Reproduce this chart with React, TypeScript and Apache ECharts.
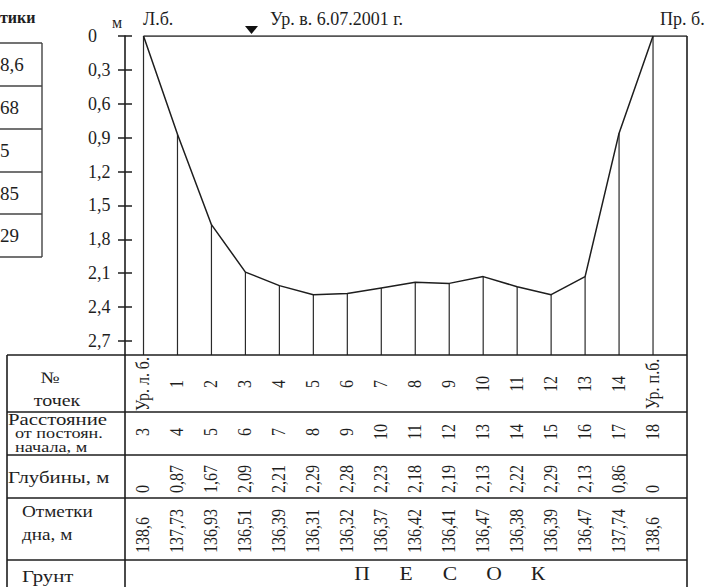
import React, { useEffect, useRef } from "react";
import * as echarts from "echarts";

// ---- data ----
const pointLabels = ["Ур. л. б.", "1", "2", "3", "4", "5", "6", "7", "8", "9", "10", "11", "12", "13", "14", "Ур. п.б."];
const distances = [3, 4, 5, 6, 7, 8, 9, 10, 11, 12, 13, 14, 15, 16, 17, 18];
const depths = [0, 0.87, 1.67, 2.09, 2.21, 2.29, 2.28, 2.23, 2.18, 2.19, 2.13, 2.22, 2.29, 2.13, 0.86, 0];
const bedElevations = [138.6, 137.73, 136.93, 136.51, 136.39, 136.31, 136.32, 136.37, 136.42, 136.41, 136.47, 136.38, 136.39, 136.47, 137.74, 138.6];
const depthTicks = [0, 0.3, 0.6, 0.9, 1.2, 1.5, 1.8, 2.1, 2.4, 2.7];
const soilLetters = ["П", "Е", "С", "О", "К"];
const sideTableFragments = ["8,6", "68", "5", "85", "29"];
const sideTableHeading = "тики";
const waterLevelText = "Ур. в. 6.07.2001 г.";
const leftBankText = "Л.б.";
const rightBankText = "Пр. б.";

// ---- layout ----
const FONT = '"Liberation Serif", "Times New Roman", serif';
const INK = "#1e1e1e";
const X_MIN = 2.455;
const X_MAX = 19;
const Y_MAX = 2.824;
const TABLE_LEFT = 7;
const COL_SEP = 125;
const RIGHT = 687;
const ROW_LINES = [355, 412, 455, 498, 560];

const fmtComma = (v: number) => String(v).replace(".", ",");

function tableRow(texts: string[], y: number, align: "left" | "center") {
  return {
    type: "custom",
    coordinateSystem: "cartesian2d",
    clip: false,
    silent: true,
    z: 5,
    data: distances.map((d) => [d, 0]),
    renderItem: (params: any, api: any) => {
      const x = api.coord([api.value(0), 0])[0];
      return {
        type: "text",
        x,
        y,
        rotation: Math.PI / 2,
        scaleY: 1.15,
        style: {
          text: texts[params.dataIndex],
          fontSize: 16,
          fontFamily: FONT,
          fill: INK,
          align,
          verticalAlign: "middle",
          textAlign: align,
          textVerticalAlign: "middle",
        },
      };
    },
  };
}

function txt(text: string, x: number, y: number, opts: any = {}) {
  const align = opts.align || "left";
  return {
    type: "text",
    x,
    y,
    scaleX: opts.scaleX || 1,
    silent: true,
    z: 10,
    style: {
      text,
      fontSize: opts.fontSize || 18,
      fontFamily: FONT,
      fontWeight: opts.bold ? "bold" : "normal",
      fill: INK,
      align,
      verticalAlign: "middle",
      textAlign: align,
      textVerticalAlign: "middle",
    },
  };
}

function hline(x1: number, x2: number, y: number, w = 1.5, color = INK) {
  return { type: "line", silent: true, z: 10, shape: { x1, y1: y, x2, y2: y }, style: { stroke: color, lineWidth: w } };
}
function vline(x: number, y1: number, y2: number, w = 1.5, color = INK) {
  return { type: "line", silent: true, z: 10, shape: { x1: x, y1, x2: x, y2 }, style: { stroke: color, lineWidth: w } };
}

export default function App() {
  const ref = useRef<HTMLDivElement>(null);
  useEffect(() => {
    if (!ref.current) return;
    const chart = echarts.init(ref.current, null, { renderer: "svg" });

    const graphic: any[] = [];
    // header texts
    graphic.push(txt(leftBankText, 143, 19, { fontSize: 18 }));
    graphic.push(txt(waterLevelText, 270, 19, { fontSize: 18 }));
    graphic.push(txt(rightBankText, 660, 19, { fontSize: 18 }));
    graphic.push(txt("м", 112, 22, { fontSize: 16 }));
    graphic.push({
      type: "polygon",
      silent: true,
      z: 10,
      shape: { points: [[245, 26], [258, 26], [251.5, 34]] },
      style: { fill: "#111" },
    });

    // table frame
    ROW_LINES.forEach((y) => graphic.push(hline(TABLE_LEFT, RIGHT, y, 1.6)));
    graphic.push(vline(TABLE_LEFT, 355, 587, 1.6));
    graphic.push(vline(COL_SEP, 355, 587, 1.6));
    graphic.push(vline(RIGHT, 36, 587, 1.6));

    // table row headers
    graphic.push(txt("№", 50, 378, { fontSize: 16, align: "center", scaleX: 1.25 }));
    graphic.push(txt("точек", 57, 401, { fontSize: 16, align: "center", scaleX: 1.25 }));
    graphic.push(txt("Расстояние", 8, 419, { fontSize: 16, scaleX: 1.3 }));
    graphic.push(txt("от постоян.", 15, 434, { fontSize: 14, scaleX: 1.3 }));
    graphic.push(txt("начала, м", 15, 448, { fontSize: 14, scaleX: 1.3 }));
    graphic.push(txt("Глубины, м", 8, 477, { fontSize: 16, scaleX: 1.3 }));
    graphic.push(txt("Отметки", 22, 512, { fontSize: 16, scaleX: 1.2 }));
    graphic.push(txt("дна, м", 22, 535, { fontSize: 16, scaleX: 1.2 }));
    graphic.push(txt("Грунт", 22, 576, { fontSize: 16, scaleX: 1.3 }));

    // soil
    soilLetters.forEach((l, i) => graphic.push(txt(l, 362 + i * 44, 574, { fontSize: 18, align: "center", scaleX: 1.2 })));

    // side table fragment (cut off at the left edge)
    graphic.push(txt(sideTableHeading, 0, 17, { fontSize: 16, bold: true }));
    const sideRows = [43, 86, 129, 172, 214, 257];
    sideRows.forEach((y) => graphic.push(hline(-2, 42, y, 1.4, "#444")));
    graphic.push(vline(42, 43, 257, 1.4, "#444"));
    sideTableFragments.forEach((t, i) => {
      const y = (sideRows[i] + sideRows[i + 1]) / 2;
      graphic.push(txt(t, 0, y, { fontSize: 19 }));
    });

    const yLabelFmt = (v: number) => {
      const hit = depthTicks.find((t) => Math.abs(t - v) < 1e-6);
      if (hit === undefined) return "";
      return hit === 0 ? "0" : hit.toFixed(1).replace(".", ",");
    };

    chart.setOption({
      animation: false,
      grid: { left: COL_SEP, right: 710 - RIGHT, top: 36, bottom: 587 - 355, containLabel: false },
      xAxis: {
        type: "value",
        min: X_MIN,
        max: X_MAX,
        show: false,
      },
      yAxis: [
        {
          type: "value",
          inverse: true,
          min: 0,
          max: Y_MAX,
          interval: 0.3,
          position: "left",
          splitLine: { show: false },
          axisLine: { show: true, lineStyle: { color: INK, width: 1.6 } },
          axisTick: { show: true, inside: false, length: 7, customValues: depthTicks, lineStyle: { color: INK, width: 1.5 } },
          axisLabel: {
            show: true,
            customValues: depthTicks,
            align: "left",
            margin: 37,
            fontSize: 18,
            fontFamily: FONT,
            color: INK,
            formatter: yLabelFmt,
          },
        },
        {
          type: "value",
          inverse: true,
          min: 0,
          max: Y_MAX,
          interval: 0.3,
          position: "left",
          offset: 0,
          splitLine: { show: false },
          axisLine: { show: false },
          axisTick: { show: true, inside: true, length: 7, customValues: depthTicks, lineStyle: { color: INK, width: 1.5 } },
          axisLabel: { show: false },
        },
      ],
      series: [
        {
          name: "Уровень воды",
          type: "line",
          data: [[distances[0], 0], [X_MAX, 0]],
          showSymbol: false,
          silent: true,
          lineStyle: { color: INK, width: 1.6 },
          z: 3,
        },
        {
          name: "Вертикали",
          type: "custom",
          coordinateSystem: "cartesian2d",
          clip: false,
          silent: true,
          z: 2,
          data: distances.map((d, i) => [d, depths[i]]),
          renderItem: (params: any, api: any) => {
            const top = api.coord([api.value(0), api.value(1)]);
            const bot = api.coord([api.value(0), Y_MAX]);
            return {
              type: "line",
              shape: { x1: top[0], y1: top[1], x2: bot[0], y2: bot[1] },
              style: { stroke: "#2a2a2a", lineWidth: 1.2 },
            };
          },
        },
        {
          name: "Профиль дна",
          type: "line",
          data: distances.map((d, i) => [d, depths[i]]),
          showSymbol: false,
          silent: true,
          lineStyle: { color: INK, width: 1.5 },
          z: 4,
        },
        tableRow(pointLabels, 384, "center"),
        tableRow(distances.map((d) => String(d)), 432, "center"),
        tableRow(depths.map((d) => fmtComma(d)), 493, "left"),
        tableRow(bedElevations.map((v) => fmtComma(v)), 553, "left"),
      ],
      graphic,
    });

    return () => chart.dispose();
  }, []);

  return (
    <div
      ref={ref}
      style={{ position: "absolute", left: 0, top: 0, width: 710, height: 587, background: "#fff" }}
    />
  );
}
